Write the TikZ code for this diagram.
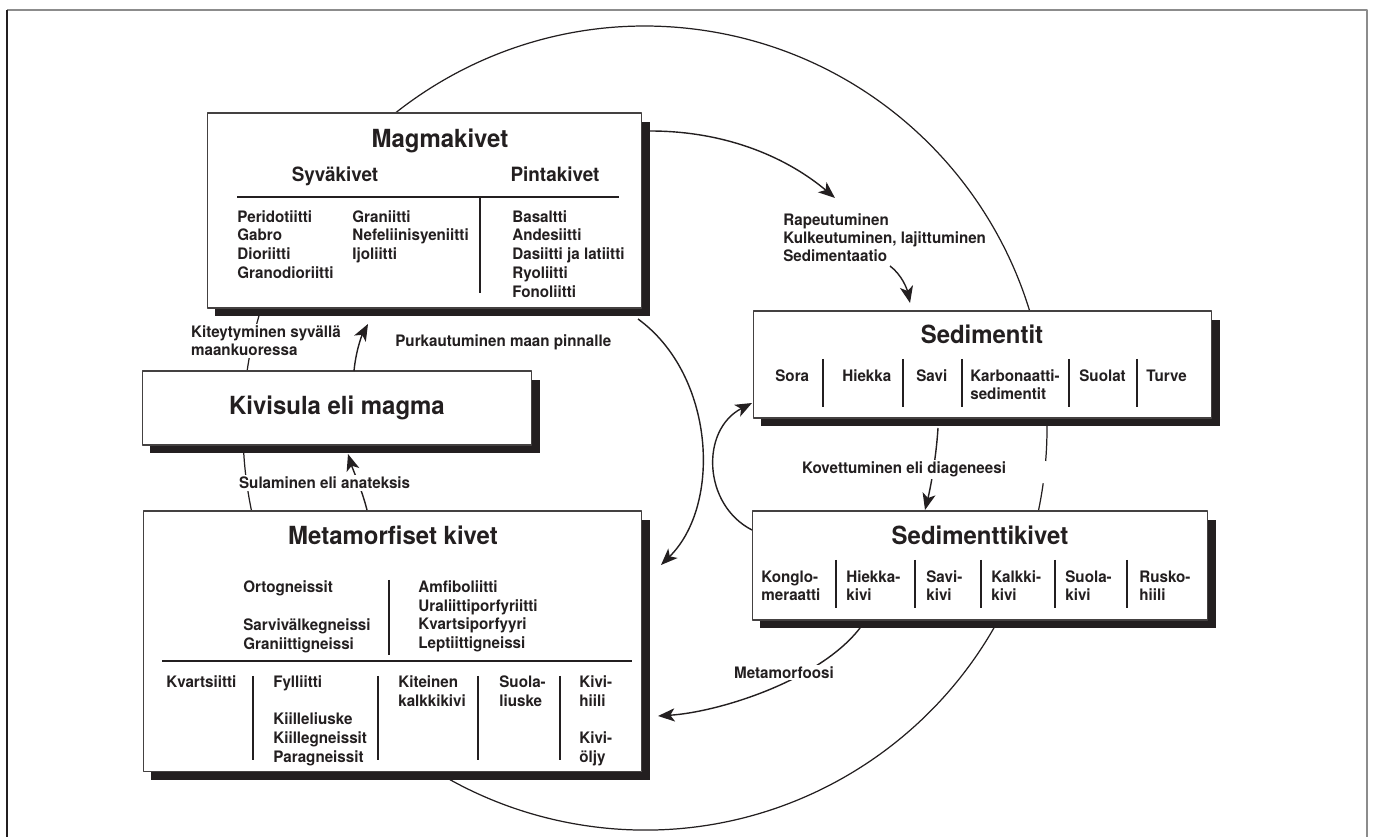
\documentclass[tikz,border=0pt]{standalone}
\usepackage{fontspec}
\setmainfont{TeX Gyre Heros}[FakeStretch=0.96]
\usepackage{tikz}
\usetikzlibrary{arrows.meta}
\usetikzlibrary{shadows}

\definecolor{inkc}{HTML}{231F20}
\definecolor{framegray}{HTML}{8C8C8C}

\begin{document}
\begin{tikzpicture}[x=0.02cm, y=-0.02cm, line join=round,
        box_style/.style={draw=inkc!85, fill=white, line width=0.6pt, inner sep=0pt,
            drop shadow={shadow xshift=0.16cm, shadow yshift=-0.17cm, opacity=1, fill=inkc}},
        title_style/.style={font=\fontsize{14.2}{16}\selectfont\bfseries, text=inkc, inner sep=0pt, anchor=base},
        head_style/.style={font=\fontsize{11.2}{13}\selectfont\bfseries, text=inkc, inner sep=0pt, anchor=base},
        item_style/.style={font=\fontsize{9}{10.6}\selectfont\bfseries, text=inkc, inner sep=0pt, anchor=base west},
        label_style/.style={item_style, fill=white, inner sep=1pt},
        rule_style/.style={draw=inkc, line width=0.6pt},
        edge_style/.style={draw=inkc, line width=0.8pt, -{Stealth[length=9.5pt,width=7.5pt,inset=2.5pt]}},
        cycle_style/.style={draw=inkc, line width=0.7pt}]

        \useasboundingbox (0,0) rectangle (1374,837);

        % frame
        \draw[framegray, line width=1.2pt] (7,10) -- (1367,10) -- (1367,837);
        \draw[inkc, line width=0.8pt] (7,10) -- (7,837);

        % rock cycle
        \draw[cycle_style] (1043.2,483.3) arc[start angle=7.9, end angle=364.7, radius=402];

        \node[box_style, minimum width=8.7cm, minimum height=3.9cm] (magma) at (424.5,210.5) {};

        \node[box_style, minimum width=7.8cm, minimum height=1.48cm,
            font=\fontsize{14.2}{16}\selectfont\bfseries, text=inkc] (melt) at (337,408) {Kivisula eli magma};

        \node[box_style, minimum width=9.98cm, minimum height=5.22cm] (meta) at (392.5,641.5) {};

        \node[box_style, minimum width=9.18cm, minimum height=2.14cm] (sedi) at (982.5,364.5) {};

        \node[box_style, minimum width=9.12cm, minimum height=2.18cm] (sedrock) at (980,565.5) {};

        % Magmakivet
        \node[title_style] (magma-t) at (440,148) {Magmakivet};
        \node[head_style] (syva-h) at (335,182) {Syväkivet};
        \node[head_style] (pinta-h) at (555,182) {Pintakivet};
        \draw[rule_style] (237,197) -- (619,197);
        \draw[rule_style] (480,197) -- (480,293);
        \foreach \rock [count=\k from 0] in {Peridotiitti, Gabro, Dioriitti, Granodioriitti}
            \node[item_style] (syva-a\k) at (237,{222.3+18.7*\k}) {\rock};
        \foreach \rock [count=\k from 0] in {Graniitti, Nefeliinisyeniitti, Ijoliitti}
            \node[item_style] (syva-b\k) at (352,{222.3+18.7*\k}) {\rock};
        \foreach \rock [count=\k from 0] in {Basaltti, Andesiitti, Dasiitti ja latiitti, Ryoliitti, Fonoliitti}
            \node[item_style] (pinta-\k) at (512,{222.3+18.7*\k}) {\rock};

        % Metamorfiset kivet
        \node[title_style] (meta-t) at (393,545) {Metamorfiset kivet};
        \node[item_style] (orto-0) at (243,592.6) {Ortogneissit};
        \node[item_style] (orto-1) at (243,630.6) {Sarvivälkegneissi};
        \node[item_style] (orto-2) at (243,649.3) {Graniittigneissi};
        \foreach \rock [count=\k from 0] in {Amfiboliitti, Uraliittiporfyriitti, Kvartsiporfyyri, Leptiittigneissi}
            \node[item_style] (lepti-\k) at (418,{592.6+18.7*\k}) {\rock};
        \draw[rule_style] (389,580) -- (389,655);
        \draw[rule_style] (162,661) -- (632,661);
        \foreach \xr in {253,378,478,560}
            \draw[rule_style] (\xr,676) -- (\xr,760);
        \node[item_style] (kvar) at (166,687.6) {Kvartsiitti};
        \node[item_style] (fyll) at (273,687.6) {Fylliitti};
        \foreach \rock [count=\k from 0] in {Kiilleliuske, Kiillegneissit, Paragneissit}
            \node[item_style] (kiille-\k) at (273,{725+18.7*\k}) {\rock};
        \node[item_style] (kite-a) at (398,687.6) {Kiteinen};
        \node[item_style] (kite-b) at (398,706.3) {kalkkikivi};
        \node[item_style] (suola-a) at (499,687.6) {Suola-};
        \node[item_style] (suola-b) at (499,706.3) {liuske};
        \node[item_style] (hiili-a) at (579,687.6) {Kivi-};
        \node[item_style] (hiili-b) at (579,706.3) {hiili};
        \node[item_style] (oljy-a) at (579,743.7) {Kivi-};
        \node[item_style] (oljy-b) at (579,762.4) {öljy};

        % Sedimentit
        \node[title_style] (sedi-t) at (982,344) {Sedimentit};
        \foreach \xr in {823,903,962,1069,1137}
            \draw[rule_style] (\xr,359) -- (\xr,407);
        \foreach \rock/\xl [count=\k] in {Sora/775, Hiekka/842, Savi/916, Karbonaatti-/970, Suolat/1079, Turve/1146}
            \node[item_style] (sed-\k) at (\xl,381.5) {\rock};
        \node[item_style] (sed-4b) at (970,400) {sedimentit};

        % Sedimenttikivet
        \node[title_style] (sedrock-t) at (980,545) {Sedimenttikivet};
        \foreach \xr in {836,915,981,1055,1127}
            \draw[rule_style] (\xr,560) -- (\xr,608);
        \foreach \wa/\wb/\xl [count=\k] in {Konglo-/meraatti/761, Hiekka-/kivi/846, Savi-/kivi/926, Kalkki-/kivi/991, Suola-/kivi/1065, Rusko-/hiili/1139} {
            \node[item_style] (sk\k-a) at (\xl,582.5) {\wa};
            \node[item_style] (sk\k-b) at (\xl,601) {\wb};
        }

        % processes
        \coordinate (magma-out) at (650,131);
        \coordinate (rape-in) at (835,198);
        \coordinate (rape-out) at (890,266);
        \coordinate (sedi-in) at (910,303);
        \coordinate (magma-low) at (638,319);
        \coordinate (meta-in) at (661,565);
        \coordinate (sedrock-left) at (752,530);
        \coordinate (sedi-left) at (752,403);
        \coordinate (sedi-low) at (938,428);
        \coordinate (sedrock-top) at (925,510);
        \coordinate (sedrock-low) at (860,628);
        \coordinate (meta-right) at (658,716);
        \coordinate (melt-top) at (354,371);
        \coordinate (magma-bottom) at (368,324);
        \coordinate (meta-top) at (367,510);
        \coordinate (melt-bottom) at (348,454);

        \draw[edge_style] (magma-out) .. controls +(80,0) and +(-45,-38) .. (rape-in);
        \draw[edge_style] (rape-out) .. controls +(12,9) and +(-3,-14) .. (sedi-in);
        \draw[edge_style] (magma-low) .. controls +(77,56) and +(61,-60) .. (meta-in);
        \draw[edge_style] (sedrock-left) .. controls +(-49,-25) and +(-52,27) .. (sedi-left);
        \draw[edge_style] (sedi-low) .. controls +(-2,32) and +(5,-20) .. (sedrock-top);
        \draw[edge_style] (sedrock-low) .. controls +(-40,52) and +(62,-4) .. (meta-right);
        \draw[edge_style] (melt-top) .. controls +(2,-21) and +(-6,11) .. (magma-bottom);
        \draw[edge_style] (meta-top) .. controls +(-5,-20) and +(5,16) .. (melt-bottom);

        % labels
        \node[label_style] (kiteyt-0) at (189,337.6) {Kiteytyminen syvällä};
        \node[label_style] (kiteyt-1) at (189,356) {maankuoressa};
        \node[item_style] (purk) at (395,347) {Purkautuminen maan pinnalle};
        \node[label_style] (sula) at (237,489) {Sulaminen eli anateksis};
        \foreach \step [count=\k from 0] in {Rapeutuminen, {Kulkeutuminen, lajittuminen}, Sedimentaatio}
            \node[item_style] (rape-\k) at (783,{225.6+18*\k}) {\step};
        \node[label_style] (kov) at (800,473.5) {Kovettuminen eli diageneesi};
        \node[label_style] (metaf) at (732,678.5) {Metamorfoosi};

\end{tikzpicture}
\end{document}
